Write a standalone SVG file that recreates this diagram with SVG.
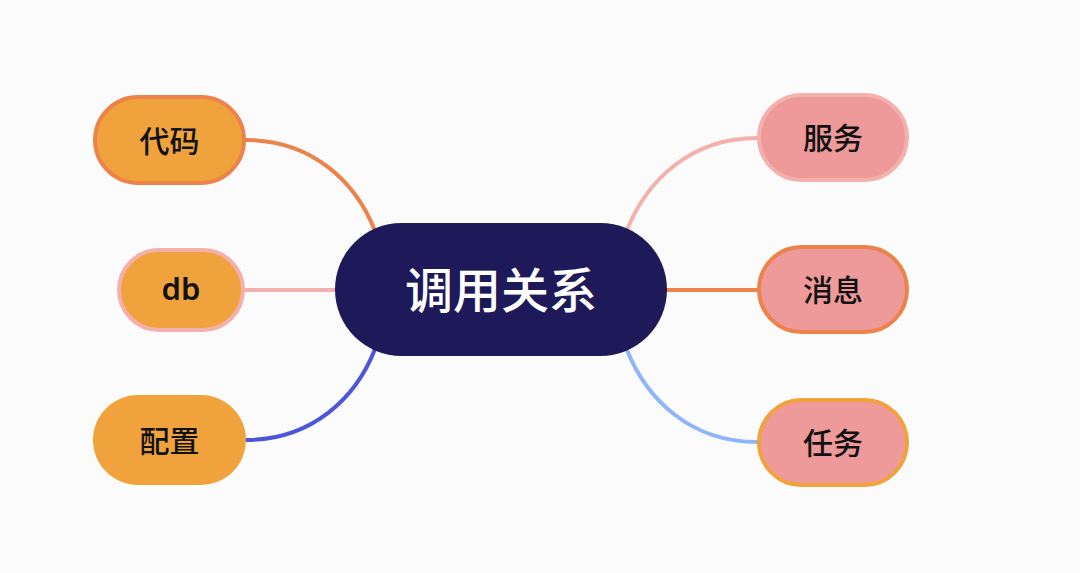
<svg xmlns="http://www.w3.org/2000/svg" width="1080" height="573" viewBox="0 0 1080 573">
<style>
.lbl{font-family:"Noto Sans CJK SC","Noto Sans",sans-serif;font-size:30px;font-weight:500;fill:#111;text-anchor:middle;dominant-baseline:central}
.lat{font-family:"Noto Sans","Liberation Sans",sans-serif;font-size:31px;font-weight:600;fill:#111;text-anchor:middle;dominant-baseline:central}
.ctr{font-family:"Noto Sans CJK SC","Noto Sans",sans-serif;font-size:48px;font-weight:500;fill:#fff;text-anchor:middle;dominant-baseline:central}
.con{fill:none;stroke-width:4;stroke-linecap:round}
.og{fill:#F0A33C}
.pk{fill:#EF9A9A}
</style>
<rect x="0" y="0" width="1080" height="573" fill="#FBFBFB"/>
<g id="connectors">
<path class="con" stroke="#EC834A" d="M246,140 C312,140 356,182 375,231"/>
<path class="con" stroke="#F3B0AC" d="M245,290 L336,290"/>
<path class="con" stroke="#4E55D8" d="M246,440 C312,440 356,398 375,349"/>
<path class="con" stroke="#F3B0AC" d="M757,138 C691,138 647,180 627,230"/>
<path class="con" stroke="#EC834A" d="M666,290 L757,290"/>
<path class="con" stroke="#91B5F9" d="M757,442 C691,442 647,400 627,350"/>
</g>
<g id="center">
<rect x="335" y="223" width="332" height="133" rx="66.5" fill="#1E1A5A"/>
<text class="ctr" x="501" y="287">调用关系</text>
</g>
<g id="node-daima">
<rect class="og" x="95" y="97" width="149" height="86" rx="43" stroke="#EC834A" stroke-width="4"/>
<text class="lbl" x="169.5" y="138.5">代码</text>
</g>
<g id="node-db">
<rect class="og" x="119" y="250" width="124" height="80" rx="40" stroke="#F3B0AC" stroke-width="4"/>
<text class="lat" x="181" y="288">db</text>
</g>
<g id="node-peizhi">
<rect class="og" x="93" y="395" width="153" height="90" rx="45"/>
<text class="lbl" x="169.5" y="438.5">配置</text>
</g>
<g id="node-fuwu">
<rect class="pk" x="759" y="95" width="148" height="85" rx="42.5" stroke="#F3B0AC" stroke-width="4"/>
<text class="lbl" x="833" y="136">服务</text>
</g>
<g id="node-xiaoxi">
<rect class="pk" x="759" y="247" width="148" height="85" rx="42.5" stroke="#EC834A" stroke-width="4"/>
<text class="lbl" x="833" y="288">消息</text>
</g>
<g id="node-renwu">
<rect class="pk" x="759" y="400" width="148" height="85" rx="42.5" stroke="#F0A33C" stroke-width="4"/>
<text class="lbl" x="833" y="441">任务</text>
</g>
</svg>
